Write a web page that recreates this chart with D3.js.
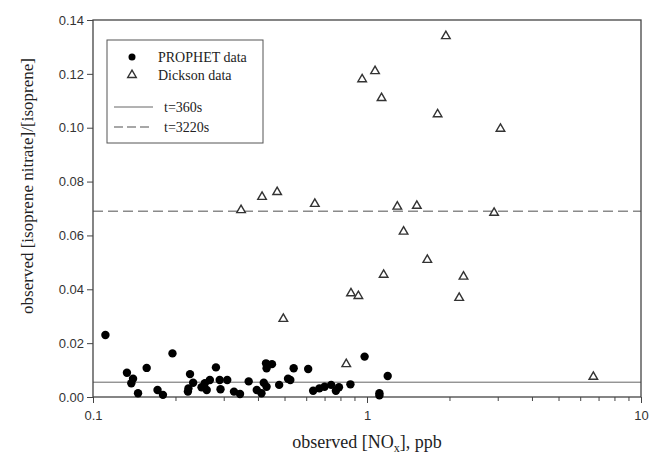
<!DOCTYPE html>
<html>
<head>
<meta charset="utf-8">
<script src="https://cdn.jsdelivr.net/npm/d3@7"></script>
<style>
body { margin: 0; background: #fff; }
svg { display: block; }
</style>
</head>
<body>
<svg id="canvas" width="652" height="459"></svg>
<script>
// PROPHET data: [NOx ppb, nitrate/isoprene]
var prophet = [
	[0.111, 0.0230], [0.133, 0.0090], [0.140, 0.0068], [0.138, 0.0051], [0.146, 0.0014],
	[0.157, 0.0108], [0.172, 0.0026], [0.180, 0.0008], [0.195, 0.0162], [0.226, 0.0085],
	[0.232, 0.0053], [0.223, 0.0032], [0.222, 0.0020], [0.249, 0.0036], [0.256, 0.0051],
	[0.267, 0.0063], [0.260, 0.0026], [0.281, 0.0110], [0.290, 0.0063], [0.309, 0.0063],
	[0.292, 0.0029], [0.327, 0.0020], [0.344, 0.0011], [0.370, 0.0058], [0.396, 0.0026],
	[0.412, 0.0014], [0.420, 0.0053], [0.430, 0.0038], [0.428, 0.0125], [0.450, 0.0122],
	[0.430, 0.0107], [0.478, 0.0045], [0.540, 0.0107], [0.610, 0.0104], [0.515, 0.0068],
	[0.525, 0.0063], [0.636, 0.0023], [0.670, 0.0032], [0.700, 0.0038], [0.740, 0.0045],
	[0.770, 0.0023], [0.790, 0.0036], [0.870, 0.0047], [0.980, 0.0150], [1.11, 0.0014],
	[1.11, 0.0006], [1.19, 0.0078]
];

// Dickson data: [NOx ppb, nitrate/isoprene]
var dickson = [
	[0.347, 0.0694], [0.414, 0.0743], [0.470, 0.0761], [0.645, 0.0717], [0.495, 0.0290],
	[0.840, 0.0122], [0.874, 0.0385], [0.930, 0.0375], [0.960, 0.1180], [1.07, 0.1210],
	[1.13, 0.1110], [1.15, 0.0454], [1.29, 0.0707], [1.36, 0.0614], [1.52, 0.0710],
	[1.66, 0.0509], [1.81, 0.1050], [1.94, 0.1340], [2.17, 0.0368], [2.25, 0.0447],
	[2.91, 0.0684], [3.07, 0.0996], [6.70, 0.0075]
];

var model_levels = [0.0055, 0.069];   // t=360s, t=3220s
var legend_labels = ["PROPHET data", "Dickson data", "t=360s", "t=3220s"];
var y_ticks = [0, 0.02, 0.04, 0.06, 0.08, 0.10, 0.12, 0.14];
var x_major = [0.1, 1, 10];

var margin = {left: 93, right: 11, top: 20, bottom: 62};
var width = 652, height = 459;

var svg = d3.select("#canvas");

var xScale = d3.scaleLog()
	.domain([0.1, 10])
	.range([margin.left, width - margin.right]);

var yScale = d3.scaleLinear()
	.domain([0, 0.14])
	.range([height - margin.bottom, margin.top]);

var x_minor = [];
[0.1, 1].forEach(function (base) {
	for (var k = 2; k <= 9; k++) x_minor.push(base * k);
});

// model lines
svg.append("line")
	.attr("x1", xScale(0.1)).attr("x2", xScale(10))
	.attr("y1", yScale(model_levels[0])).attr("y2", yScale(model_levels[0]))
	.attr("stroke", "#666").attr("stroke-width", 1);

svg.append("line")
	.attr("x1", xScale(0.1)).attr("x2", xScale(10))
	.attr("y1", yScale(model_levels[1])).attr("y2", yScale(model_levels[1]))
	.attr("stroke", "#8a8a8a").attr("stroke-width", 1.5)
	.attr("stroke-dasharray", "10,5");

// axes
var xMinorAxis = d3.axisBottom(xScale).tickValues(x_minor).tickSize(4).tickFormat("");
var xAxis = d3.axisBottom(xScale).tickValues(x_major).tickSize(6)
	.tickFormat(function (d) { return d3.format("")(d); });
var yAxis = d3.axisLeft(yScale).tickValues(y_ticks).tickSize(6).tickFormat(d3.format(".2f"));

function styleAxis(g) {
	g.select(".domain").remove();
	g.selectAll(".tick line").attr("stroke", "#444");
	g.selectAll(".tick text")
		.attr("fill", "#333")
		.style("font-family", "Liberation Sans, Arial, sans-serif")
		.style("font-size", "13px");
}

svg.append("g")
	.attr("class", "x axis minor")
	.attr("transform", "translate(0," + yScale(0) + ")")
	.call(xMinorAxis).call(styleAxis);

svg.append("g")
	.attr("class", "x axis")
	.attr("transform", "translate(0," + yScale(0) + ")")
	.call(xAxis).call(styleAxis)
	.selectAll(".tick text").attr("dy", "1.05em");

svg.append("g")
	.attr("class", "y axis")
	.attr("transform", "translate(" + xScale(0.1) + ",0)")
	.call(yAxis).call(styleAxis);

// frame
svg.append("rect")
	.attr("x", xScale(0.1)).attr("y", yScale(0.14))
	.attr("width", xScale(10) - xScale(0.1))
	.attr("height", yScale(0) - yScale(0.14))
	.attr("fill", "none").attr("stroke", "#444").attr("stroke-width", 1.3);

// data
var triangle = d3.symbol().type(d3.symbolTriangle).size(32);

svg.selectAll("path.dickson").data(dickson).enter()
	.append("path")
	.attr("class", "dickson")
	.attr("d", triangle)
	.attr("transform", function (d) { return "translate(" + xScale(d[0]) + "," + yScale(d[1]) + ")"; })
	.attr("fill", "#fff").attr("stroke", "#333").attr("stroke-width", 1.4);

svg.selectAll("circle.prophet").data(prophet).enter()
	.append("circle")
	.attr("class", "prophet")
	.attr("cx", function (d) { return xScale(d[0]); })
	.attr("cy", function (d) { return yScale(d[1]); })
	.attr("r", 4.2)
	.attr("fill", "#000");

// legend
var lg = svg.append("g").attr("class", "legend");
lg.append("rect")
	.attr("x", 107).attr("y", 40).attr("width", 156).attr("height", 103)
	.attr("fill", "#fff").attr("stroke", "#555").attr("stroke-width", 1);

var serif = "Liberation Serif, Times New Roman, serif";
var rows = [
	{label: legend_labels[0], y: 57, tx: 158},
	{label: legend_labels[1], y: 75, tx: 158},
	{label: legend_labels[2], y: 107, tx: 164},
	{label: legend_labels[3], y: 127, tx: 164}
];

lg.append("circle").attr("cx", 132).attr("cy", rows[0].y).attr("r", 3.5).attr("fill", "#000");
lg.append("path").attr("d", triangle)
	.attr("transform", "translate(132," + rows[1].y + ")")
	.attr("fill", "#fff").attr("stroke", "#333").attr("stroke-width", 1.4);
lg.append("line").attr("x1", 114).attr("x2", 153).attr("y1", rows[2].y).attr("y2", rows[2].y)
	.attr("stroke", "#666").attr("stroke-width", 1);
lg.append("line").attr("x1", 114).attr("x2", 153).attr("y1", rows[3].y).attr("y2", rows[3].y)
	.attr("stroke", "#8a8a8a").attr("stroke-width", 1.5).attr("stroke-dasharray", "9,4");

lg.selectAll("text").data(rows).enter()
	.append("text")
	.attr("x", function (d) { return d.tx; })
	.attr("y", function (d) { return d.y + 5; })
	.style("font-family", serif)
	.style("font-size", "14px")
	.attr("fill", "#222")
	.text(function (d) { return d.label; });

// axis titles
var xt = svg.append("text")
	.attr("x", (xScale(0.1) + xScale(10)) / 2)
	.attr("y", 448)
	.attr("text-anchor", "middle")
	.style("font-family", serif)
	.style("font-size", "18px")
	.attr("fill", "#222");
xt.append("tspan").text("observed [NO");
xt.append("tspan").attr("dy", 4).style("font-size", "12px").text("x");
xt.append("tspan").attr("dy", -4).text("], ppb");

svg.append("text")
	.attr("transform", "translate(33,186) rotate(-90)")
	.attr("text-anchor", "middle")
	.style("font-family", serif)
	.style("font-size", "17px")
	.attr("fill", "#222")
	.text("observed [isoprene nitrate]/[isoprene]");
</script>
</body>
</html>
